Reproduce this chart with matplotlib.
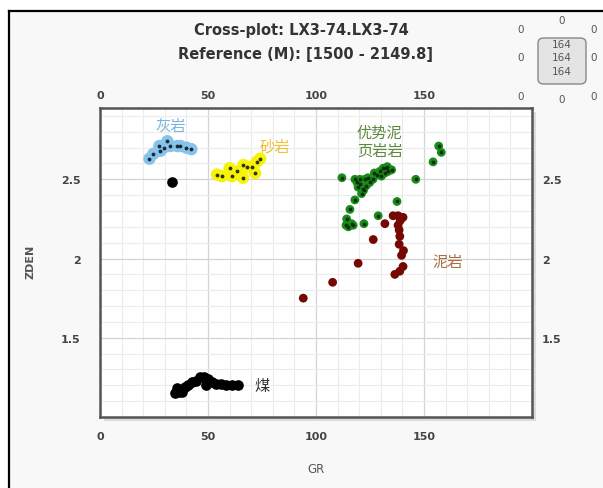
import numpy as np
import matplotlib
matplotlib.use('Agg')
import matplotlib.pyplot as plt
from matplotlib.patches import Rectangle, FancyBboxPatch
from matplotlib.lines import Line2D
from matplotlib.ticker import MultipleLocator

plt.rcParams['font.family'] = ['DejaVu Sans', 'Noto Sans CJK SC']

# lithology groups (GR, ZDEN)
limestone_gr = [22.9, 24.7, 28.0, 27.5, 29.4, 31.2, 32.6, 35.8, 37.2, 40.0, 42.3]
limestone_den = [2.63, 2.66, 2.68, 2.71, 2.70, 2.74, 2.71, 2.71, 2.71, 2.70, 2.69]

sand_gr = [54.2, 56.5, 60.0, 61.1, 63.4, 66.2, 66.4, 68.0, 70.3, 71.8, 72.6, 74.1]
sand_den = [2.53, 2.52, 2.57, 2.52, 2.55, 2.51, 2.59, 2.58, 2.58, 2.54, 2.61, 2.63]

shale_gr = [112.0, 118.0, 120.3, 122.6, 124.9, 126.4, 128.3, 129.5, 131.1, 132.6,
            131.9, 133.4, 130.3, 119.5, 121.8, 123.3, 121.1, 118.0, 115.7, 114.2,
            113.9, 115.0, 117.2, 116.5, 122.2, 128.8, 137.5, 146.2, 154.2, 156.8,
            158.0, 120.5, 122.0, 119.0, 124.0, 127.0, 133.0, 135.0]
shale_den = [2.51, 2.50, 2.50, 2.50, 2.48, 2.50, 2.53, 2.55, 2.57, 2.57,
             2.54, 2.55, 2.52, 2.45, 2.44, 2.46, 2.41, 2.37, 2.31, 2.25,
             2.21, 2.20, 2.21, 2.22, 2.22, 2.27, 2.36, 2.50, 2.61, 2.71,
             2.67, 2.47, 2.43, 2.48, 2.51, 2.54, 2.58, 2.56]

mud_gr = [135.7, 138.0, 140.3, 131.9, 138.0, 138.5, 138.8, 126.5, 138.5, 139.6,
          119.5, 140.3, 138.8, 136.5, 107.7, 94.1, 140.5, 139.0]
mud_den = [2.27, 2.27, 2.26, 2.22, 2.21, 2.18, 2.14, 2.12, 2.09, 2.02,
           1.97, 1.95, 1.92, 1.90, 1.85, 1.75, 2.05, 2.24]

coal_gr = [34.9, 35.8, 38.1, 39.5, 40.9, 42.7, 44.6, 46.4, 48.3, 50.1,
           49.2, 52.0, 53.8, 56.1, 58.4, 61.2, 64.0, 36.5, 33.4]
coal_den = [1.15, 1.18, 1.16, 1.19, 1.20, 1.22, 1.23, 1.25, 1.25, 1.24,
            1.20, 1.22, 1.21, 1.21, 1.20, 1.20, 1.20, 1.16, 2.48]

x_ticks = [0, 50, 100, 150]
y_ticks = [1.5, 2, 2.5]

fig = plt.figure(figsize=(6.03, 4.89), dpi=100)
fig.patch.set_facecolor('white')

# outer panel background and frame (left + top only)
fig.patches.append(Rectangle((9 / 603, 0), 1, 1 - 12 / 489, transform=fig.transFigure,
                             facecolor='#f8f8f8', edgecolor='none', zorder=-2))
fig.lines.append(Line2D([9 / 603, 9 / 603], [0, 1 - 12 / 489], transform=fig.transFigure,
                        color='black', lw=1.6, zorder=-1))
fig.lines.append(Line2D([9 / 603, 1], [1 - 12 / 489, 1 - 12 / 489], transform=fig.transFigure,
                        color='black', lw=1.6, zorder=-1))

ax_l, ax_b, ax_w, ax_h = 100 / 603, 1 - 418 / 489, 432 / 603, 309 / 489

# drop shadow of the plot frame
fig.patches.append(Rectangle((ax_l + 4 / 603, ax_b - 4 / 489), ax_w, ax_h,
                             transform=fig.transFigure, facecolor='#dcdcdc',
                             edgecolor='none', zorder=-1))

ax = fig.add_axes([ax_l, ax_b, ax_w, ax_h])
ax.set_zorder(1)
ax.set_facecolor('white')
ax.set_xlim(0, 200)
ax.set_ylim(1.0, 2.95)
ax.set_xticks(x_ticks)
ax.set_yticks(y_ticks)
ax.xaxis.set_minor_locator(MultipleLocator(10))
ax.yaxis.set_minor_locator(MultipleLocator(0.1))
ax.grid(which='minor', color='#ececec', lw=0.8)
ax.grid(which='major', color='#d4d4d4', lw=0.9)
ax.set_axisbelow(True)
for s in ax.spines.values():
    s.set_color('#555555')
    s.set_linewidth(1.8)

ax.tick_params(which='both', length=0)
ax.tick_params(axis='x', pad=10, labelsize=8, labelcolor='#444444')
ax.tick_params(axis='y', pad=14, labelsize=8, labelcolor='#444444')
ax.set_xticklabels([str(v) for v in x_ticks], fontweight='bold')
ax.set_yticklabels(['1.5', '2', '2.5'], fontweight='bold')

top = ax.secondary_xaxis('top')
top.set_xticks(x_ticks)
top.set_xticklabels([str(v) for v in x_ticks], fontweight='bold')
top.tick_params(length=0, pad=6, labelsize=8, labelcolor='#444444')
top.spines['top'].set_visible(False)

right = ax.secondary_yaxis('right')
right.set_yticks(y_ticks)
right.set_yticklabels(['1.5', '2', '2.5'], fontweight='bold')
right.tick_params(length=0, pad=7, labelsize=8, labelcolor='#444444')
right.spines['right'].set_visible(False)

# points
ax.scatter(limestone_gr, limestone_den, s=80, color='#86c4ea', edgecolors='none', zorder=3)
ax.scatter(limestone_gr, limestone_den, s=3, color='#1a2a3a', zorder=4)
ax.scatter(sand_gr, sand_den, s=80, color='#f6f20a', edgecolors='none', zorder=3)
ax.scatter(sand_gr, sand_den, s=3, color='#333300', zorder=4)
ax.scatter(shale_gr, shale_den, s=40, color='#1a8a1a', edgecolors='none', zorder=3)
ax.scatter(shale_gr, shale_den, s=3, color='#0a300a', zorder=4)
ax.scatter(mud_gr, mud_den, s=40, color='#760804', edgecolors='none', zorder=3)
ax.scatter(coal_gr, coal_den, s=44, color='black', zorder=3)

# lithology labels
cjk = ['Noto Sans CJK SC', 'DejaVu Sans']
ax.text(32.6, 2.84, '灰岩', color='#78b4de', fontsize=11, ha='center', va='center', family=cjk)
ax.text(81.1, 2.71, '砂岩', color='#f0c030', fontsize=11, ha='center', va='center', family=cjk)
ax.text(129.5, 2.74, '优势泥\n页岩岩', color='#5a8a3a', fontsize=11, ha='center', va='center',
        linespacing=1.1, family=cjk)
ax.text(160.9, 1.98, '泥岩', color='#b06a40', fontsize=11, ha='center', va='center', family=cjk)
ax.text(75.0, 1.20, '煤', color='#333333', fontsize=11, ha='center', va='center', family=cjk)

# titles and axis names
fig.text(301 / 603, 1 - 30 / 489, 'Cross-plot: LX3-74.LX3-74', ha='center', va='center',
         fontsize=10.5, fontweight='bold', color='#333333')
fig.text(305 / 603, 1 - 55 / 489, 'Reference (M): [1500 - 2149.8]', ha='center', va='center',
         fontsize=10.5, fontweight='bold', color='#333333')
fig.text(316 / 603, 1 - 470 / 489, 'GR', ha='center', va='center', fontsize=8.5, color='#555555')
fig.text(31 / 603, 1 - 262 / 489, 'ZDEN', ha='center', va='center', rotation=90,
         fontsize=8, fontweight='bold', color='#555555')

# counter widget at top right
fig.patches.append(FancyBboxPatch((538 / 603, 1 - 85 / 489), 48 / 603, 46 / 489,
                                  boxstyle='round,pad=0,rounding_size=0.01',
                                  transform=fig.transFigure, facecolor='#e4e4e4',
                                  edgecolor='#888888', lw=1.0, zorder=2))
for yy in (45, 58, 72):
    fig.text(562 / 603, 1 - yy / 489, '164', ha='center', va='center', fontsize=7.5, color='#555555')
for (xx, yy) in [(521, 30), (562, 21), (594, 30), (521, 58), (594, 58),
                 (521, 97), (562, 100), (594, 97)]:
    fig.text(xx / 603, 1 - yy / 489, '0', ha='center', va='center', fontsize=7.5, color='#555555')

fig.savefig('out.png', dpi=100)
